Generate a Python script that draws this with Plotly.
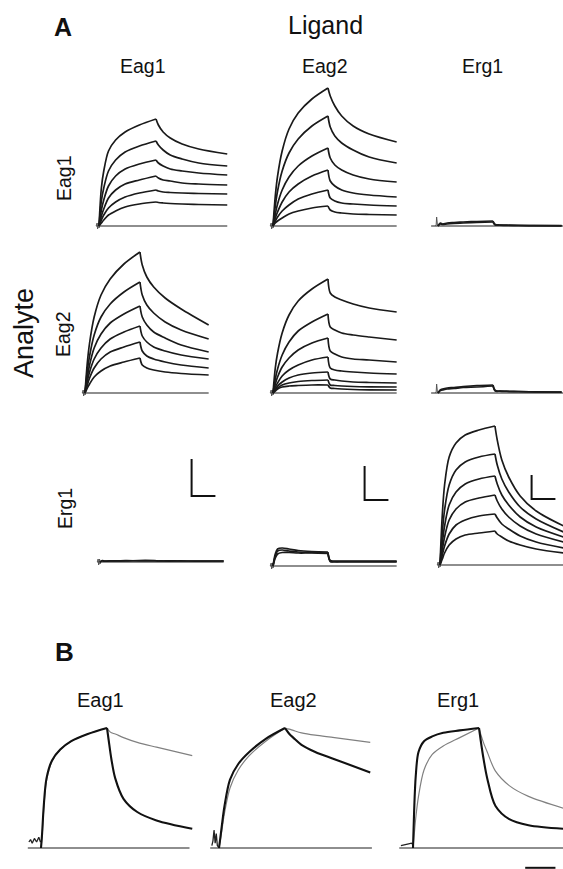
import plotly.graph_objects as go

W, H = 563, 869

# ---------------- time grids (s) ----------------
T_ASSOC = [0, 5, 10, 20, 35, 55, 85, 120]
T_DISSOC = [120, 125, 135, 150, 175, 210, 270]
TB_ASSOC = [0, 2, 5, 10, 20, 35, 55, 85, 120]
TB_DISSOC = [120, 123, 128, 135, 150, 175, 210, 275]

# ---------------- Panel A responses (RU) ----------------
# analyte Eag1 / ligand Eag1
A11_ASSOC = [[0, 38, 55, 75, 86, 94, 101, 107],
             [0, 25, 38, 55, 66, 74, 80, 85],
             [0, 16, 26, 40, 50, 57, 62, 66],
             [0, 10, 17, 28, 36, 42, 46, 50],
             [0, 6, 11, 18, 24, 29, 33, 36],
             [0, 3, 6, 11, 15, 19, 22, 24]]
A11_DISSOC = [[107, 101, 94, 88, 82, 77, 72],
              [85, 81, 76, 71, 67, 63, 60],
              [66, 63, 60, 57, 55, 53, 51],
              [50, 48, 46, 45, 43, 42, 41],
              [36, 35, 34, 33.5, 33, 32.5, 32],
              [24, 23.5, 23, 22.5, 22, 21.5, 21]]
# analyte Eag1 / ligand Eag2
A12_ASSOC = [[0, 30, 50, 75, 97, 113, 127, 138],
             [0, 20, 35, 55, 73, 87, 100, 110],
             [0, 12, 22, 36, 49, 60, 70, 78],
             [0, 8, 14, 24, 34, 42, 50, 56],
             [0, 5, 9, 15, 21, 27, 32, 36],
             [0, 3, 5, 8, 12, 15, 18, 20]]
A12_DISSOC = [[138, 130, 120, 110, 100, 92, 84],
              [110, 99, 90, 83, 76, 69, 63],
              [78, 68, 61, 56, 51, 47, 44],
              [56, 45, 40, 36, 33, 31, 29],
              [36, 28, 25, 23, 22, 21, 20],
              [20, 16, 14, 13, 12, 11.5, 11]]
# analyte Eag1 / ligand Erg1
A13_ASSOC = [[0, 3, 2, 3, 3.5, 4, 4.5, 5],
             [0, 2, 1.5, 2, 2.5, 3, 3.5, 4]]
A13_DISSOC = [[5, 1.5, 1, 0.8, 0.6, 0.4, 0.3],
              [4, 1, 0.8, 0.6, 0.5, 0.3, 0.2]]
# analyte Eag2 / ligand Eag1
A21_ASSOC = [[0, 30, 50, 76, 98, 114, 129, 141],
             [0, 22, 37, 58, 76, 89, 101, 111],
             [0, 16, 28, 45, 59, 70, 79, 87],
             [0, 12, 21, 34, 45, 54, 61, 67],
             [0, 8, 15, 25, 34, 41, 46, 51],
             [0, 5, 9, 16, 22, 27, 31, 35]]
A21_DISSOC = [[141, 128, 116, 106, 95, 84, 68],
              [111, 98, 88, 80, 71, 63, 54],
              [87, 76, 68, 61, 55, 48, 41],
              [67, 57, 51, 46, 42, 38, 34],
              [51, 42, 37, 34, 31, 28, 25],
              [35, 28, 25, 23, 21, 19.5, 18]]
# analyte Eag2 / ligand Eag2
A22_ASSOC = [[0, 25, 40, 60, 78, 92, 104, 114],
             [0, 14, 24, 38, 51, 62, 71, 79],
             [0, 9, 16, 26, 35, 43, 50, 55],
             [0, 6, 10, 17, 23, 28, 33, 36],
             [0, 4, 7, 11, 15, 18, 20, 21],
             [0, 3, 5, 8, 10, 11.5, 12.5, 13],
             [0, 2, 4, 6, 7, 7.5, 8, 8]]
A22_DISSOC = [[114, 100, 96, 93, 89, 85, 81],
              [79, 66, 63, 60, 58, 56, 53],
              [55, 42, 39, 36, 34, 33, 31],
              [36, 25, 23, 22, 21, 20, 19],
              [21, 14, 13, 12, 11, 10.5, 10],
              [13, 8, 7.5, 7, 6.5, 6.2, 6],
              [8, 5, 4.5, 4, 3.5, 3.2, 3]]
# analyte Eag2 / ligand Erg1
A23_ASSOC = [[0, 3, 4, 5, 5.5, 6.5, 7.5, 8],
             [0, 2.5, 3, 4, 4.5, 5.5, 6, 7]]
A23_DISSOC = [[8, 2.5, 2, 1.8, 1.5, 1.2, 1],
              [7, 2, 1.8, 1.5, 1.3, 1, 0.8]]
# analyte Erg1 / ligand Eag1
A31_ASSOC = [[0, 1.5, 1, 1, 1.2, 1, 1.5, 1.5],
             [0, 1, 0.8, 1.2, 1, 1.3, 1.2, 1.2]]
A31_DISSOC = [[1.5, 1.2, 1, 1.2, 1, 1, 1],
              [1.2, 1, 1.1, 0.9, 1.1, 0.9, 1]]
# analyte Erg1 / ligand Eag2
A32_ASSOC = [[0, 10, 15, 16, 15, 14, 13.5, 13],
             [0, 8, 12, 13.5, 13.5, 13, 13, 12.5],
             [0, 12, 17, 18, 17, 15.5, 14.5, 14]]
A32_DISSOC = [[13, 5, 4.5, 4.5, 4.5, 4.5, 4.5],
              [12.5, 4.5, 4.2, 4, 4, 4, 4],
              [14, 5.5, 5, 5, 4.8, 4.8, 4.8]]
# analyte Erg1 / ligand Erg1
A33_ASSOC = [[0, 50, 80, 108, 122, 130, 135, 139],
             [0, 32, 55, 80, 95, 103, 108, 111],
             [0, 22, 39, 60, 73, 81, 86, 89],
             [0, 15, 28, 45, 56, 63, 67, 70],
             [0, 10, 19, 31, 40, 45, 49, 51],
             [0, 6, 12, 20, 26, 30, 32, 34]]
A33_DISSOC = [[139, 125, 105, 88, 69, 54, 39],
              [111, 100, 86, 73, 58, 46, 33],
              [89, 81, 70, 60, 48, 38, 28],
              [70, 64, 56, 48, 39, 31, 23],
              [51, 47, 41, 36, 29, 23, 17],
              [34, 31, 28, 24, 20, 16, 12]]

# injection artefacts (s, RU)
ART_T = [-6, -4, -3, -1, 0, 1]
ART_Y = [0, 3, -3, 3, -2, 0]
SPIKE_Y = [0, 1, 9, 0, 1, 0]

# zero baselines (s)
A_BASE_T = [-6, 270]
A_BASE_T_ERG = [-15, 275]

# scale bars in row 3 (s, RU)
SB_T0, SB_DT, SB_Y0 = 200, 52, 66
SB_DY = [37, 34, 24]

# ---------------- Panel B: normalised response (%) ----------------
B1_ASSOC_BLACK = [0, 12, 35, 58, 73, 82, 89, 95, 100]
B1_ASSOC_GREY = [0, 10, 32, 56, 72, 82, 89, 95, 100]
B1_DISSOC_BLACK = [100, 90, 74, 58, 41, 30, 23, 16]
B1_DISSOC_GREY = [100, 98, 96, 95, 92, 88, 84, 77]
B2_ASSOC_BLACK = [0, 7, 18, 35, 57, 70, 80, 91, 100]
B2_ASSOC_GREY = [0, 5, 14, 29, 50, 65, 77, 89, 100]
B2_DISSOC_BLACK = [100, 98, 95, 92, 86, 80, 74, 63]
B2_DISSOC_GREY = [100, 99.5, 99, 98, 96, 94, 92, 88]
B3_ASSOC_BLACK = [0, 30, 60, 80, 89, 93, 96, 98, 100]
B3_ASSOC_GREY = [0, 10, 25, 43, 65, 78, 85, 92, 100]
B3_DISSOC_BLACK = [100, 90, 75, 58, 35, 24, 19, 16]
B3_DISSOC_GREY = [100, 95, 88, 80, 64, 52, 43, 33]

B1_ART_T = [-22, -19, -16, -12, -8, -4, -1, 0]
B1_ART_Y = [5, 7, 4, 8, 5, 9, 5, 6]
B2_ART_T = [-13, -11, -9, -7, -5, -3, 0]
B2_ART_Y = [2, 6, 15, 4, 12, 2, 0]
B3_ART_T = [-22, -15, -8, -3, 0]
B3_ART_Y = [2, 3, 3.5, 4, 3]
B_BASE_T = [[-24, 270], [-16, 278], [-25, 290]]
B_SB_T0, B_SB_DT, B_SB_Y = 204, 55, -16.5

# ---------------- layout helpers (pixel geometry) ----------------
fig = go.Figure()
layout_axes = {}
axis_id = [0]


def new_axes(inj, base, pps, ppu, t0, t1, y0, y1):
    axis_id[0] += 1
    k = axis_id[0]
    left = max(0.0, inj + t0 * pps)
    right = min(float(W), inj + t1 * pps)
    top = max(0.0, base - y1 * ppu)
    bottom = min(float(H), base - y0 * ppu)
    xr = [(left - inj) / pps, (right - inj) / pps]
    yr = [(base - bottom) / ppu, (base - top) / ppu]
    sfx = "" if k == 1 else str(k)
    layout_axes["xaxis" + sfx] = dict(domain=[left / W, right / W], range=xr,
                                      visible=False, fixedrange=True, anchor="y" + sfx)
    layout_axes["yaxis" + sfx] = dict(domain=[1 - bottom / H, 1 - top / H], range=yr,
                                      visible=False, fixedrange=True, anchor="x" + sfx)
    return "x" + sfx, "y" + sfx


def line(xa, ya, x, y, color, width, shape="spline"):
    fig.add_trace(go.Scatter(x=x, y=y, xaxis=xa, yaxis=ya, mode="lines",
                             line=dict(color=color, width=width, shape=shape,
                                       smoothing=0.9 if shape == "spline" else None),
                             hoverinfo="skip", showlegend=False))


DATA_COL = "#1a1a1a"
BASE_COL = "#8e8e8e"

A_PPS = 0.458
A_PANELS = [
    # assoc, dissoc, inj px, baseline px, px/s, spike?, baseline t, scalebar
    (A11_ASSOC, A11_DISSOC, 99, 226, 0.475, False, A_BASE_T, None),
    (A12_ASSOC, A12_DISSOC, 273, 226, A_PPS, False, A_BASE_T, None),
    (A13_ASSOC, A13_DISSOC, 438, 226, A_PPS, True, A_BASE_T_ERG, None),
    (A21_ASSOC, A21_DISSOC, 85, 393, A_PPS, False, A_BASE_T, None),
    (A22_ASSOC, A22_DISSOC, 273, 393, A_PPS, False, A_BASE_T, None),
    (A23_ASSOC, A23_DISSOC, 438, 393, A_PPS, True, A_BASE_T_ERG, None),
    (A31_ASSOC, A31_DISSOC, 100, 562, A_PPS, False, A_BASE_T, 0),
    (A32_ASSOC, A32_DISSOC, 273, 566, A_PPS, False, A_BASE_T, 1),
    (A33_ASSOC, A33_DISSOC, 440, 565, A_PPS, False, A_BASE_T, 2),
]

for assoc, dissoc, inj, base, pps, spike, base_t, sb in A_PANELS:
    xa, ya = new_axes(inj, base, pps, 1.0, -25, 300, -10, 150)
    line(xa, ya, base_t, [0, 0], BASE_COL, 2.2, "linear")
    line(xa, ya, ART_T, SPIKE_Y if spike else ART_Y, "#555", 1.0, "linear")
    for a, d in zip(assoc, dissoc):
        line(xa, ya, T_ASSOC, a, DATA_COL, 1.7)
        line(xa, ya, T_DISSOC, d, DATA_COL, 1.7)
    if sb is not None:
        line(xa, ya, [SB_T0, SB_T0, SB_T0 + SB_DT],
             [SB_Y0 + SB_DY[sb], SB_Y0, SB_Y0], "#111", 2.0, "linear")

B_PPS, B_PPU = 0.55, 1.2
B_PANELS = [
    (B1_ASSOC_BLACK, B1_ASSOC_GREY, B1_DISSOC_BLACK, B1_DISSOC_GREY, B1_ART_T, B1_ART_Y, 41),
    (B2_ASSOC_BLACK, B2_ASSOC_GREY, B2_DISSOC_BLACK, B2_DISSOC_GREY, B2_ART_T, B2_ART_Y, 219),
    (B3_ASSOC_BLACK, B3_ASSOC_GREY, B3_DISSOC_BLACK, B3_DISSOC_GREY, B3_ART_T, B3_ART_Y, 413),
]
for i, (ab, ag, db, dg, art_t, art_y, inj) in enumerate(B_PANELS):
    xa, ya = new_axes(inj, 848, B_PPS, B_PPU, -30, 300, -20, 110)
    line(xa, ya, B_BASE_T[i], [0, 0], BASE_COL, 2.0, "linear")
    line(xa, ya, art_t, art_y, "#222", 1.3, "linear")
    line(xa, ya, TB_ASSOC, ag, "#808080", 1.2)
    line(xa, ya, TB_DISSOC, dg, "#808080", 1.2)
    line(xa, ya, TB_ASSOC, ab, "#111", 2.1)
    line(xa, ya, TB_DISSOC, db, "#111", 2.1)
    if i == 2:
        line(xa, ya, [B_SB_T0, B_SB_T0 + B_SB_DT], [B_SB_Y, B_SB_Y], "#111", 2.0, "linear")

# ---------------- text ----------------
FONT = "Liberation Sans, Arial, Helvetica, sans-serif"


def text(s, px, py, size, bold=False, angle=0):
    return dict(text=("<b>%s</b>" % s) if bold else s, x=px / W, y=1 - py / H,
                xref="paper", yref="paper", showarrow=False, textangle=angle,
                xanchor="center", yanchor="middle",
                font=dict(family=FONT, size=size, color="#111"))


annotations = [
    text("A", 63, 27, 25, bold=True),
    text("Ligand", 325, 25, 25),
    text("Eag1", 143, 66, 19.5),
    text("Eag2", 325, 66, 19.5),
    text("Erg1", 482, 66, 19.5),
    text("Eag1", 64, 178, 19.5, angle=-90),
    text("Eag2", 63, 334, 19.5, angle=-90),
    text("Erg1", 65, 509, 19.5, angle=-90),
    text("Analyte", 24, 333, 27, angle=-90),
    text("B", 64, 652, 26, bold=True),
    text("Eag1", 100, 700, 20),
    text("Eag2", 293, 700, 20),
    text("Erg1", 458, 700, 20),
]

fig.update_layout(width=W, height=H, autosize=False,
                  margin=dict(l=0, r=0, t=0, b=0),
                  paper_bgcolor="white", plot_bgcolor="rgba(0,0,0,0)",
                  showlegend=False, annotations=annotations, **layout_axes)

fig.write_html("out.html", config={"displayModeBar": False, "staticPlot": True},
               post_script="document.body.style.margin='0';document.body.style.overflow='hidden';")
